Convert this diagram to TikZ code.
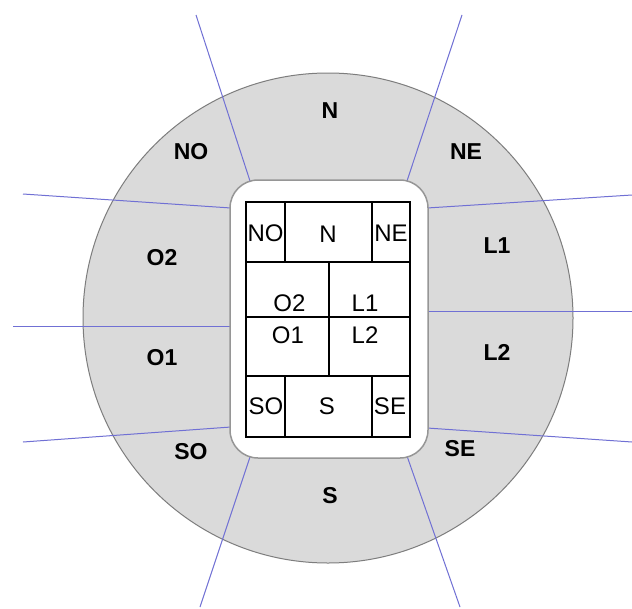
\documentclass[tikz,border=0pt]{standalone}
\usepackage{fontspec}
\setmainfont{Liberation Sans}
\definecolor{ringgray}{RGB}{218,218,218}
\definecolor{ringedge}{RGB}{125,125,125}
\definecolor{boxedge}{RGB}{150,150,150}
\definecolor{divblue}{RGB}{112,112,212}
\begin{document}
\begin{tikzpicture}[x=1pt,y=-1pt,
  outerlab/.style={font=\fontsize{23}{26}\selectfont\bfseries, inner sep=0pt},
  innerlab/.style={font=\fontsize{24}{28}\selectfont, inner sep=0pt},
  divider/.style={draw=divblue, line width=1pt},
  gridline/.style={draw=black, line width=1.4pt}]
\useasboundingbox (0,0) rectangle (632,608);
\fill[white] (0,0) rectangle (632,608);
% ring
\coordinate (c) at (328,318);
\draw[fill=ringgray, draw=ringedge, line width=1pt] (c) circle (245);
% divider end points
\coordinate (noA) at (196,15);  \coordinate (noB) at (250,181);
\coordinate (neA) at (462,15);  \coordinate (neB) at (407,181);
\coordinate (soA) at (200,607); \coordinate (soB) at (250,457);
\coordinate (seA) at (460,607); \coordinate (seB) at (407,456);
\coordinate (luA) at (23,194);  \coordinate (luB) at (231,208);
\coordinate (lmA) at (13,326);  \coordinate (lmB) at (231,326);
\coordinate (llA) at (23,442);  \coordinate (llB) at (231,427);
\coordinate (ruA) at (632,195); \coordinate (ruB) at (427,208);
\coordinate (rmA) at (632,311); \coordinate (rmB) at (427,311);
\coordinate (rlA) at (632,442); \coordinate (rlB) at (427,428);
\foreach \a in {no,ne,so,se,lu,lm,ll,ru,rm,rl}{
  \draw[divider] (\a A) -- (\a B);
}
% inner rounded box
\draw[fill=white, draw=boxedge, line width=1.5pt, rounded corners=28pt] (230,180) rectangle (428,458);
% grid
\draw[gridline] (246,202) rectangle (410,437);
\draw[gridline] (246,262) -- (410,262);
\draw[gridline] (246,317) -- (410,317);
\draw[gridline] (246,376) -- (410,376);
\draw[gridline] (285,202) -- (285,262);
\draw[gridline] (372,202) -- (372,262);
\draw[gridline] (285,376) -- (285,437);
\draw[gridline] (372,376) -- (372,437);
\draw[gridline] (329,262) -- (329,376);
% inner labels
\node[innerlab] (iNO) at (265.5,233.5) {NO};
\node[innerlab] (iN)  at (328,234) {N};
\node[innerlab] (iNE) at (391,233.5) {NE};
\node[innerlab] (iO2) at (289.5,303.5) {O2};
\node[innerlab] (iL1) at (365,303.5) {L1};
\node[innerlab] (iO1) at (288,335) {O1};
\node[innerlab] (iL2) at (365,335) {L2};
\node[innerlab] (iSO) at (266,406) {SO};
\node[innerlab] (iS)  at (327,406) {S};
\node[innerlab] (iSE) at (390,406) {SE};
% outer labels
\node[outerlab] (oN)  at (330,111) {N};
\node[outerlab] (oNO) at (191,152) {NO};
\node[outerlab] (oNE) at (466,152) {NE};
\node[outerlab] (oO2) at (162,258) {O2};
\node[outerlab] (oL1) at (497,246) {L1};
\node[outerlab] (oO1) at (162,358) {O1};
\node[outerlab] (oL2) at (497,352) {L2};
\node[outerlab] (oSO) at (191,452) {SO};
\node[outerlab] (oSE) at (460,449) {SE};
\node[outerlab] (oS)  at (330,496) {S};
\end{tikzpicture}
\end{document}
